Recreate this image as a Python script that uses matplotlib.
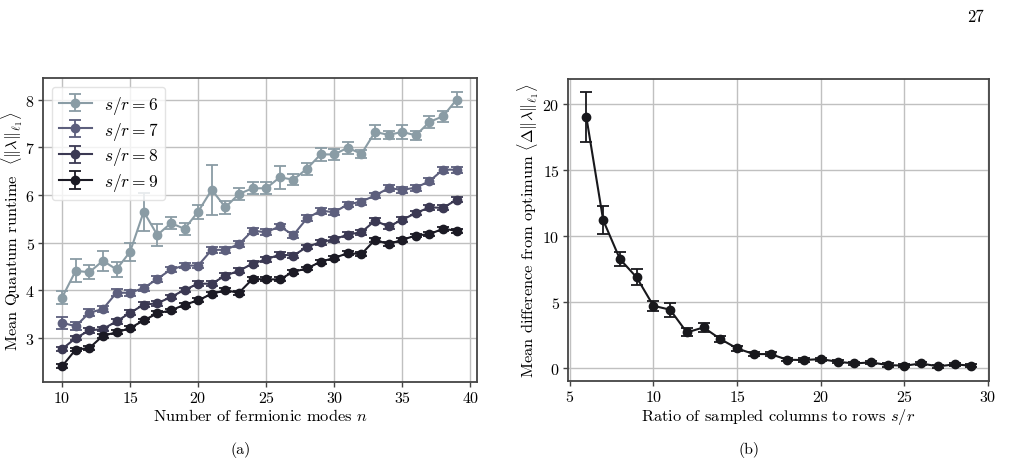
import matplotlib
matplotlib.use("Agg")
import matplotlib.pyplot as plt
import numpy as np

plt.rcParams['font.family'] = 'serif'
plt.rcParams['font.serif'] = ['cmr10']
plt.rcParams['mathtext.fontset'] = 'cm'
plt.rcParams['axes.formatter.use_mathtext'] = True

# ---- Data: panel (a) ----
modes = list(range(10, 40))
sr_labels = ["$s/r = 6$", "$s/r = 7$", "$s/r = 8$", "$s/r = 9$"]
runtime_sr6 = [3.85, 4.41, 4.38, 4.62, 4.44, 4.81, 5.65, 5.16, 5.41, 5.29,
               5.65, 6.11, 5.74, 6.02, 6.14, 6.14, 6.37, 6.32, 6.55, 6.85,
               6.85, 6.99, 6.86, 7.32, 7.26, 7.32, 7.25, 7.53, 7.65, 8.00]
err_sr6 = [0.14, 0.24, 0.15, 0.21, 0.15, 0.19, 0.40, 0.23, 0.12, 0.13,
           0.15, 0.52, 0.14, 0.12, 0.13, 0.13, 0.24, 0.12, 0.13, 0.13,
           0.12, 0.13, 0.08, 0.14, 0.08, 0.14, 0.10, 0.12, 0.12, 0.15]
runtime_sr7 = [3.32, 3.25, 3.53, 3.61, 3.95, 3.95, 4.05, 4.24, 4.44, 4.52,
               4.52, 4.85, 4.85, 4.97, 5.25, 5.22, 5.34, 5.16, 5.51, 5.67,
               5.64, 5.80, 5.86, 5.99, 6.14, 6.11, 6.15, 6.29, 6.53, 6.53]
err_sr7 = [0.12, 0.08, 0.07, 0.07, 0.07, 0.06, 0.06, 0.06, 0.06, 0.06,
           0.06, 0.06, 0.06, 0.06, 0.06, 0.06, 0.06, 0.06, 0.06, 0.06,
           0.06, 0.06, 0.06, 0.06, 0.06, 0.06, 0.06, 0.06, 0.06, 0.06]
runtime_sr8 = [2.77, 3.00, 3.16, 3.19, 3.35, 3.53, 3.70, 3.73, 3.86, 4.01,
               4.14, 4.14, 4.31, 4.41, 4.56, 4.65, 4.75, 4.73, 4.91, 5.01,
               5.07, 5.17, 5.22, 5.46, 5.34, 5.48, 5.62, 5.74, 5.73, 5.90]
err_sr8 = [0.05] * 30
runtime_sr9 = [2.41, 2.76, 2.79, 3.05, 3.12, 3.21, 3.37, 3.52, 3.58, 3.70,
               3.79, 3.93, 4.00, 3.95, 4.24, 4.23, 4.23, 4.39, 4.46, 4.60,
               4.68, 4.78, 4.76, 5.06, 4.97, 5.06, 5.15, 5.18, 5.29, 5.25]
err_sr9 = [0.04] * 30

# ---- Data: panel (b) ----
ratio = list(range(6, 30))
diff = [18.99, 11.21, 8.26, 6.87, 4.72, 4.42, 2.70, 3.08, 2.20, 1.49,
        1.06, 1.06, 0.63, 0.61, 0.68, 0.48, 0.35, 0.43, 0.23, 0.18,
        0.35, 0.13, 0.28, 0.18]
diff_err = [1.89, 1.07, 0.53, 0.60, 0.38, 0.54, 0.30, 0.32, 0.20, 0.18,
            0.14, 0.14, 0.12, 0.12, 0.12, 0.12, 0.12, 0.12, 0.12, 0.12,
            0.12, 0.12, 0.12, 0.12]

colors = ["#8a9ca5", "#5d5f7d", "#3b3953", "#1b1a24"]

fig = plt.figure(figsize=(10.15, 4.64), dpi=100)
ax1 = fig.add_axes([0.0424, 0.1746, 0.4276, 0.655])
ax2 = fig.add_axes([0.5596, 0.1767, 0.4148, 0.651])

series = [(runtime_sr6, err_sr6), (runtime_sr7, err_sr7),
          (runtime_sr8, err_sr8), (runtime_sr9, err_sr9)]
for (vals, errs), c, lab in zip(series, colors, sr_labels):
    ax1.errorbar(modes, vals, yerr=errs, color=c, marker='o', markersize=6,
                 linewidth=1.5, capsize=4, elinewidth=1.3, capthick=1.3,
                 label=lab)

ax2.errorbar(ratio, diff, yerr=diff_err, color="#18181c", marker='o',
             markersize=6, linewidth=1.5, capsize=4, elinewidth=1.3,
             capthick=1.3)

for ax in (ax1, ax2):
    ax.grid(True, color="#c0c0c0", linewidth=1.0)
    ax.set_axisbelow(True)
    for sp in ax.spines.values():
        sp.set_color("#444444")
        sp.set_linewidth(1.3)
    ax.tick_params(labelsize=11.5, length=3.5, width=1, color="#444444",
                   pad=2.5)

lab_fs = 11.8

ax1.set_xlim(8.6, 40.5)
ax1.set_ylim(2.08, 8.45)
ax1.set_xticks([10, 15, 20, 25, 30, 35, 40])
ax1.set_yticks([3, 4, 5, 6, 7, 8])
ax1.set_xlabel("Number of fermionic modes $n$", fontsize=lab_fs, labelpad=1)
ax1.set_ylabel(r"Mean Quantum runtime  $\langle\|\boldsymbol{\lambda}\|_{\ell_1}\rangle$",
               fontsize=lab_fs)
ax1.yaxis.set_label_coords(-0.041, 0.5)
leg = ax1.legend(loc='upper left', fontsize=12.5, handlelength=1.9,
                 handletextpad=0.7, borderpad=0.4, labelspacing=0.22,
                 framealpha=0.8)
leg.get_frame().set_edgecolor("#dddddd")

ax2.set_xlim(4.9, 30.05)
ax2.set_ylim(-0.98, 21.9)
ax2.set_xticks([5, 10, 15, 20, 25, 30])
ax2.set_yticks([0, 5, 10, 15, 20])
ax2.set_xlabel("Ratio of sampled columns to rows $s/r$", fontsize=lab_fs,
               labelpad=1)
ax2.set_ylabel(r"Mean difference from optimum $\langle\Delta\|\boldsymbol{\lambda}\|_{\ell_1}\rangle$",
               fontsize=lab_fs)
ax2.yaxis.set_label_coords(-0.063, 0.5)

fig.text(0.2374, 0.03, "(a)", ha='center', va='center', fontsize=11.5)
fig.text(0.738, 0.03, "(b)", ha='center', va='center', fontsize=11.5)
fig.text(0.961, 0.962, "27", ha='center', va='center', fontsize=12)

fig.savefig("out.png", dpi=100)
